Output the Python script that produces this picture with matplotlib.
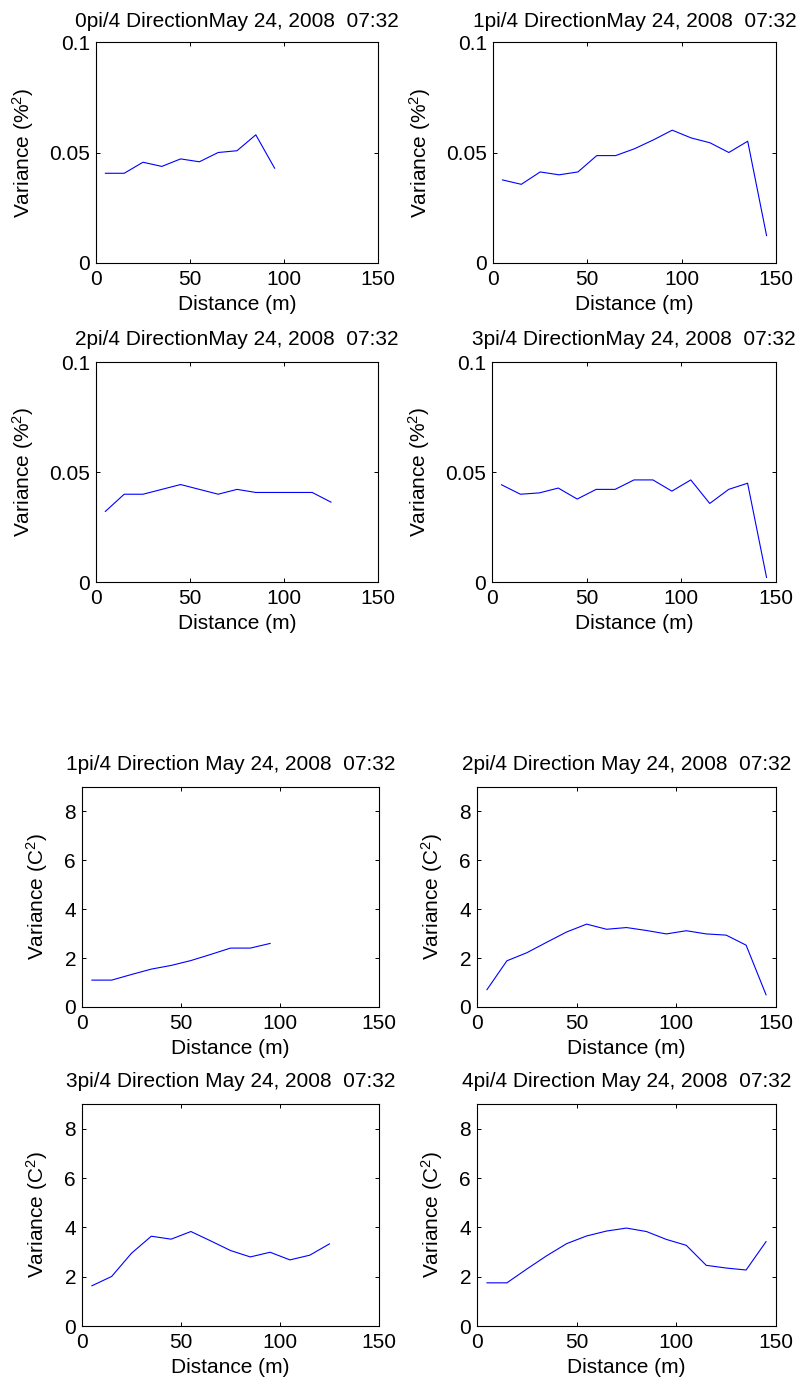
import matplotlib
matplotlib.use("Agg")
import matplotlib.pyplot as plt

plt.rcParams['font.family'] = ['Liberation Sans', 'DejaVu Sans']
plt.rcParams['mathtext.fontset'] = 'custom'
plt.rcParams['mathtext.rm'] = 'Liberation Sans'
plt.rcParams['mathtext.it'] = 'Liberation Sans'

# Lag distances (m)
lags = [5, 15, 25, 35, 45, 55, 65, 75, 85, 95, 105, 115, 125, 135, 145]

# Moisture variograms (%^2), one per direction
moist_0 = [0.0406, 0.0406, 0.0456, 0.0437, 0.0471, 0.0458, 0.0500, 0.0508, 0.0580, 0.0429]
moist_1 = [0.0376, 0.0356, 0.0412, 0.0399, 0.0412, 0.0486, 0.0486, 0.0517, 0.0557, 0.0601,
           0.0566, 0.0544, 0.0500, 0.0551, 0.0124]
moist_2 = [0.0321, 0.0399, 0.0399, 0.0421, 0.0443, 0.0421, 0.0399, 0.0421, 0.0407, 0.0407,
           0.0407, 0.0407, 0.0363]
moist_3 = [0.0442, 0.0399, 0.0405, 0.0427, 0.0377, 0.0421, 0.0421, 0.0464, 0.0464, 0.0413,
           0.0464, 0.0357, 0.0421, 0.0449, 0.0021]

# Temperature variograms (C^2), one per direction
temp_1 = [1.10, 1.10, 1.33, 1.55, 1.70, 1.90, 2.15, 2.41, 2.41, 2.60]
temp_2 = [0.71, 1.89, 2.22, 2.65, 3.07, 3.39, 3.18, 3.25, 3.13, 2.99, 3.12, 2.99, 2.94, 2.53, 0.50]
temp_3 = [1.63, 2.01, 2.95, 3.64, 3.52, 3.83, 3.45, 3.06, 2.80, 2.99, 2.68, 2.87, 3.33]
temp_4 = [1.75, 1.75, 2.31, 2.85, 3.34, 3.65, 3.85, 3.97, 3.83, 3.51, 3.27, 2.46, 2.35, 2.27, 3.42]

stamp = "May 24, 2008  07:32"
moist_titles = ["0pi/4 Direction" + stamp, "1pi/4 Direction" + stamp,
                "2pi/4 Direction" + stamp, "3pi/4 Direction" + stamp]
temp_titles = ["1pi/4 Direction " + stamp, "2pi/4 Direction " + stamp,
               "3pi/4 Direction " + stamp, "4pi/4 Direction " + stamp]

W, H = 796, 1382
FS = 15
fig = plt.figure(figsize=(W / 100, H / 100), dpi=100)


def px_axes(x0, y0, x1, y1):
    return fig.add_axes([x0 / W, 1 - y1 / H, (x1 - x0) / W, (y1 - y0) / H])


def style(ax, box, title, title_pad, ylabel, ylim, yticks, yfmt, label_gap):
    ax.set_xlim(0, 150)
    ax.set_ylim(*ylim)
    ax.set_xticks([0, 50, 100, 150])
    ax.set_yticks(yticks)
    ax.set_yticklabels([yfmt(v) for v in yticks])
    ax.tick_params(direction='in', top=True, right=True, length=3, width=0.7,
                   labelsize=FS)
    ax.tick_params(axis='x', pad=5.2)
    ax.tick_params(axis='y', pad=4.3)
    for s in ax.spines.values():
        s.set_linewidth(0.8)
    ax.set_title(title, fontsize=FS, pad=title_pad)
    ax.set_xlabel("Distance (m)", fontsize=FS, labelpad=4.5)
    ax.set_ylabel(ylabel, fontsize=FS)
    ax.yaxis.set_label_coords(-label_gap / (box[2] - box[0]), 0.5)


moist_boxes = [(96, 42, 378, 263), (493, 42, 776, 263),
               (96, 362, 378, 582), (492, 362, 776, 582)]
moist_pads = [10.6, 10.6, 12.5, 12.5]
moist_data = [moist_0, moist_1, moist_2, moist_3]
for box, pad, vals, title in zip(moist_boxes, moist_pads, moist_data, moist_titles):
    ax = px_axes(*box)
    ax.plot(lags[:len(vals)], vals, color='#0000ff', lw=0.8)
    style(ax, box, title, pad, "Variance (%$^2$)", (0, 0.1), [0, 0.05, 0.1],
          lambda v: "0" if v == 0 else ("%g" % v), 60)

temp_boxes = [(82, 787, 379, 1007), (477, 787, 776, 1007),
              (82, 1104, 379, 1326), (477, 1104, 776, 1326)]
temp_data = [temp_1, temp_2, temp_3, temp_4]
for box, vals, title in zip(temp_boxes, temp_data, temp_titles):
    ax = px_axes(*box)
    ax.plot(lags[:len(vals)], vals, color='#0000ff', lw=0.8)
    style(ax, box, title, 12.3, "Variance (C$^2$)", (0, 9), [0, 2, 4, 6, 8],
          lambda v: "%d" % v, 32)

fig.savefig("out.png", dpi=100, facecolor='white')
